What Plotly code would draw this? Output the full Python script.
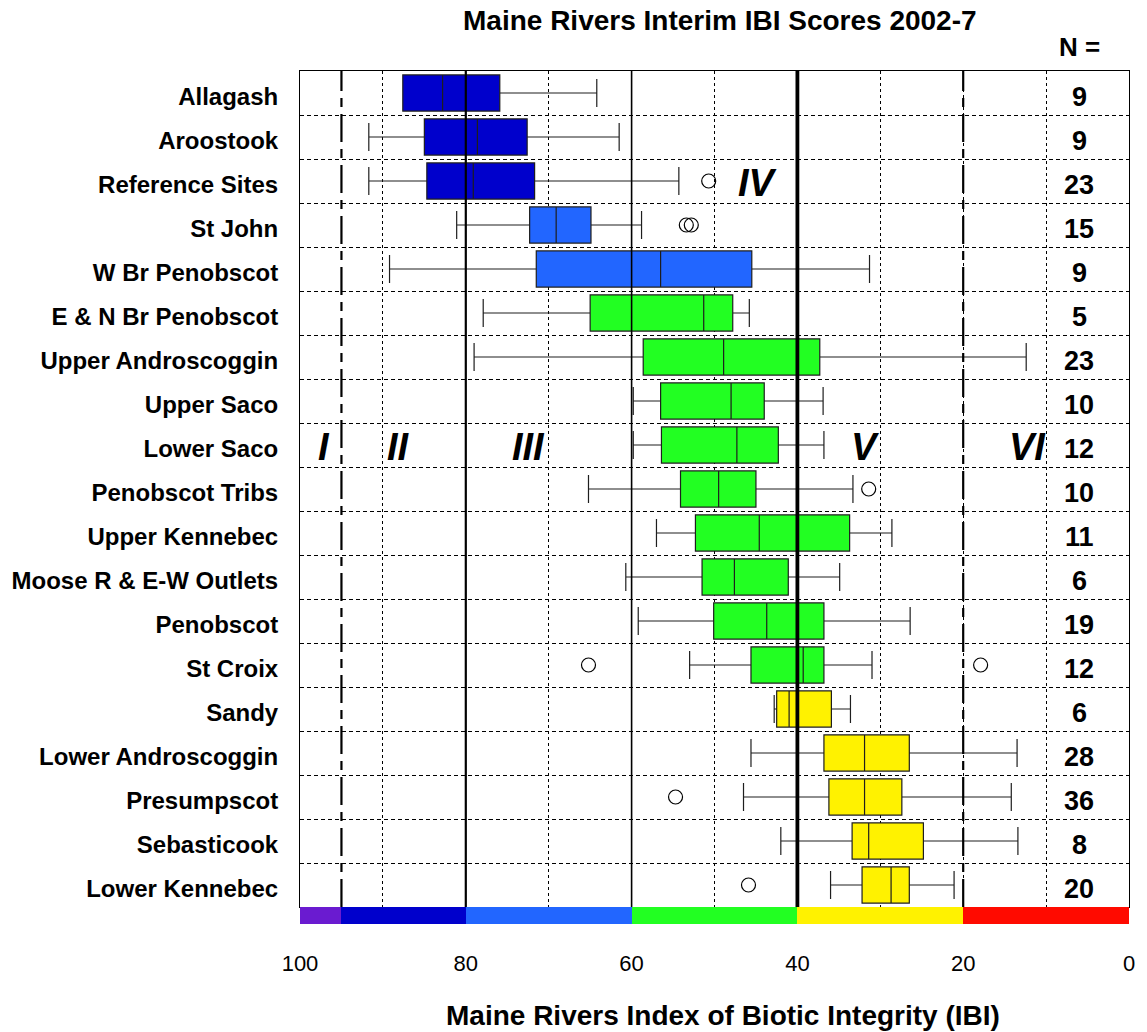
import plotly.graph_objects as go

# River segments, top to bottom
rivers = [
    "Allagash", "Aroostook", "Reference Sites", "St John", "W Br Penobscot",
    "E & N Br Penobscot", "Upper Androscoggin", "Upper Saco", "Lower Saco",
    "Penobscot Tribs", "Upper Kennebec", "Moose R & E-W Outlets", "Penobscot",
    "St Croix", "Sandy", "Lower Androscoggin", "Presumpscot", "Sebasticook",
    "Lower Kennebec",
]

# Five-number summaries of IBI scores for each segment
whisker_low = [64.2, 61.5, 54.3, 58.8, 31.3, 45.8, 12.4, 36.9, 36.8, 33.3,
               28.6, 34.9, 26.4, 31.0, 33.6, 13.5, 14.2, 13.4, 21.1]
quart1 = [75.9, 72.6, 71.7, 64.9, 45.5, 47.8, 37.3, 44.0, 42.3, 45.0,
          33.7, 41.1, 36.8, 36.8, 35.9, 26.5, 27.4, 24.8, 26.5]
medians = [82.8, 78.6, 79.1, 69.1, 56.5, 51.3, 48.9, 48.0, 47.3, 49.5,
           44.6, 47.6, 43.7, 39.3, 41.0, 31.9, 31.9, 31.4, 28.7]
quart3 = [87.6, 85.0, 84.7, 72.3, 71.5, 65.0, 58.6, 56.5, 56.4, 54.1,
          52.3, 51.5, 50.1, 45.6, 42.5, 36.8, 36.2, 33.4, 32.2]
whisker_high = [87.6, 91.7, 91.7, 81.1, 89.2, 77.9, 79.0, 59.8, 59.8, 65.2,
                57.0, 60.7, 59.2, 53.0, 42.8, 45.6, 46.5, 42.0, 36.0]
sample_n = [9, 9, 23, 15, 9, 5, 23, 10, 12, 10, 11, 6, 19, 12, 6, 28, 36, 8, 20]

# Colour class of each segment's box
box_class = ["dkblue"] * 3 + ["blue"] * 2 + ["green"] * 9 + ["yellow"] * 5

# Outlying scores
outlier_river = ["Reference Sites", "St John", "St John", "Penobscot Tribs",
                 "St Croix", "St Croix", "Presumpscot", "Lower Kennebec"]
outlier_score = [50.7, 53.4, 52.8, 31.4, 65.2, 17.9, 54.7, 45.9]

# Attainment class bands along the bottom of the plot
band_low = [95, 80, 60, 40, 20, 0]
band_high = [100, 95, 80, 60, 40, 20]
band_colors = ["#6a1bd0", "#0000cc", "#2266ff", "#22ff22", "#fff200", "#ff0a00"]

# Class labels
class_names = ["I", "II", "III", "IV", "V", "VI"]
class_label_x = [97.1, 88.1, 72.4, 44.8, 31.9, 12.3]
class_label_row = ["Lower Saco", "Lower Saco", "Lower Saco", "Reference Sites",
                   "Lower Saco", "Lower Saco"]

x_ticks = [100, 80, 60, 40, 20, 0]

N_COLUMN_X = 6

FONT = "Liberation Sans, Arial, Helvetica, sans-serif"

fills = {"dkblue": "#0000cc", "blue": "#2266ff", "green": "#22ff22", "yellow": "#fff200"}
EDGE = "#1e1e1e"

fig = go.Figure()

for cls, fill in fills.items():
    idx = [i for i, c in enumerate(box_class) if c == cls]
    fig.add_trace(go.Box(
        y=[rivers[i] for i in idx],
        q1=[quart1[i] for i in idx],
        median=[medians[i] for i in idx],
        q3=[quart3[i] for i in idx],
        lowerfence=[whisker_low[i] for i in idx],
        upperfence=[whisker_high[i] for i in idx],
        orientation="h",
        fillcolor=fill,
        line=dict(color=EDGE, width=1.2),
        width=0.82,
        whiskerwidth=0.78,
        boxpoints=False,
        hoverinfo="skip",
        showlegend=False,
        xaxis="x", yaxis="y",
    ))

fig.add_trace(go.Scatter(
    x=outlier_score, y=outlier_river, mode="markers",
    marker=dict(symbol="circle-open", size=14, color="black",
                line=dict(width=1.2, color="black")),
    showlegend=False, hoverinfo="skip", xaxis="x", yaxis="y",
))

# Colour band strip
fig.add_trace(go.Bar(
    y=[0] * len(band_low),
    base=band_low,
    x=[h - l for l, h in zip(band_low, band_high)],
    orientation="h",
    marker=dict(color=band_colors, line=dict(width=0)),
    width=1,
    showlegend=False, hoverinfo="skip",
    xaxis="x2", yaxis="y2",
))

# Class boundary lines
boundaries = [
    (95, 2.2, "28px,7px,9px,7px"),
    (80, 2.2, "solid"),
    (60, 1.6, "solid"),
    (40, 3.8, "solid"),
    (20, 2.2, "28px,7px,9px,7px"),
]
for xv, w, d in boundaries:
    fig.add_shape(type="line", xref="x", yref="y domain", x0=xv, x1=xv,
                  y0=0, y1=1, line=dict(color="black", width=w, dash=d),
                  layer="above")

for name, xv, row in zip(class_names, class_label_x, class_label_row):
    fig.add_annotation(x=xv, y=row, xref="x", yref="y", text=f"<b><i>{name}</i></b>",
                       showarrow=False, yshift=-2,
                       font=dict(family=FONT, size=38, color="black"))

# Sample sizes in the right-hand column
for river, n in zip(rivers, sample_n):
    fig.add_annotation(x=N_COLUMN_X, y=river, xref="x", yref="y", text=f"<b>{n}</b>",
                       showarrow=False, yshift=-4,
                       font=dict(family=FONT, size=27, color="black"))

strip_frac = 17 / 853

fig.update_layout(
    width=1147, height=1032,
    margin=dict(l=298, r=12, t=71, b=108),
    paper_bgcolor="white", plot_bgcolor="white",
    boxmode="overlay", barmode="overlay", bargap=0,
    font=dict(family=FONT, color="black"),
    xaxis=dict(
        range=[100, 0], dtick=10, tick0=0, showticklabels=False, ticks="",
        showgrid=True, gridcolor="black", gridwidth=1, griddash="3px,3px",
        zeroline=False, showline=True, linecolor="black", linewidth=1,
        mirror=True, anchor="y",
    ),
    yaxis=dict(
        domain=[strip_frac, 1], type="category", categoryorder="array",
        categoryarray=rivers, range=[18.5, -0.5], tickson="boundaries",
        ticks="", showgrid=True, gridcolor="black", gridwidth=1,
        griddash="4px,3px", showline=True, linecolor="black", linewidth=1,
        mirror=True, ticklabelstandoff=16, ticklabelshift=-4,
        tickfont=dict(family=FONT, size=24, color="black", weight="bold"),
        anchor="x",
    ),
    xaxis2=dict(
        range=[100, 0], tickvals=x_ticks, ticktext=[str(t) for t in x_ticks],
        ticks="", showgrid=False, zeroline=False, showline=False,
        ticklabelstandoff=24, anchor="y2",
        tickfont=dict(family=FONT, size=22, color="black"),
    ),
    yaxis2=dict(
        domain=[0, strip_frac], range=[-0.5, 0.5], showticklabels=False,
        ticks="", showgrid=False, zeroline=False, anchor="x2",
    ),
)

fig.add_annotation(xref="paper", yref="paper", x=0.507, y=(924 - 20) / 853,
                   text="<b>Maine Rivers Interim IBI Scores 2002-7</b>",
                   showarrow=False, yanchor="middle",
                   font=dict(family=FONT, size=28, color="black"))
fig.add_annotation(xref="x", yref="paper", x=N_COLUMN_X, y=(924 - 47) / 853,
                   text="<b>N =</b>", showarrow=False, yanchor="middle",
                   font=dict(family=FONT, size=26, color="black"))
fig.add_annotation(xref="paper", yref="paper", x=0.510, y=(924 - 1015) / 853,
                   text="<b>Maine Rivers Index of Biotic Integrity (IBI)</b>",
                   showarrow=False, yanchor="middle",
                   font=dict(family=FONT, size=28, color="black"))

fig.write_html("out.html")
